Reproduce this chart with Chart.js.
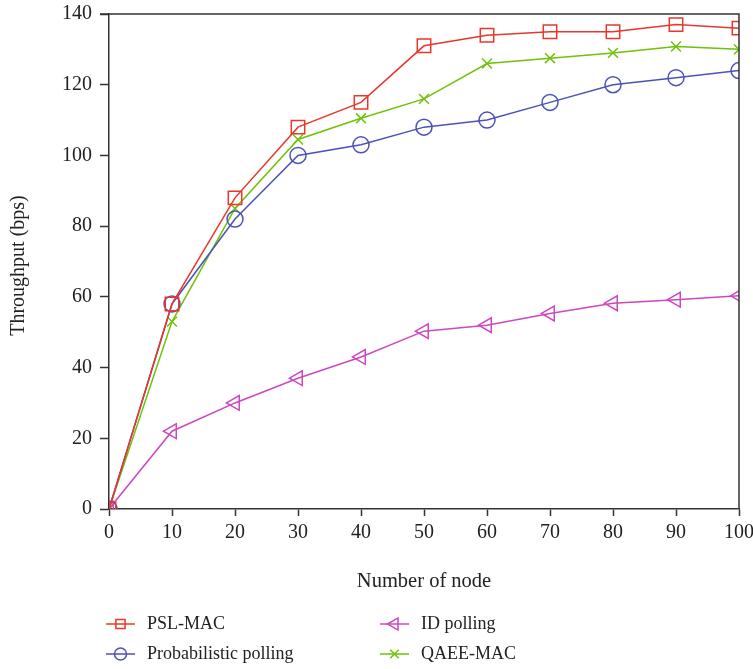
<!DOCTYPE html>
<html>
<head>
<meta charset="utf-8">
<script src="https://cdn.jsdelivr.net/npm/chart.js@4/dist/chart.umd.min.js"></script>
<style>
  html, body { margin: 0; padding: 0; background: #fff; }
  #wrap { width: 753px; height: 669px; }
</style>
</head>
<body>
<div id="wrap"><canvas id="chart" width="753" height="669"></canvas></div>
<script>
// data
const nodes = [0, 10, 20, 30, 40, 50, 60, 70, 80, 90, 100];
const pslMac = [0, 58, 88, 108, 115, 131, 134, 135, 135, 137, 136];
const probPolling = [0, 58, 82, 100, 103, 108, 110, 115, 120, 122, 124];
const idPolling = [0, 22, 30, 37, 43, 50.3, 52, 55.3, 58.2, 59.2, 60.3];
const qaeeMac = [0, 53, 85, 104.5, 110.5, 116, 126, 127.5, 129, 130.8, 130];
const seriesNames = ['PSL-MAC', 'Probabilistic polling', 'ID polling', 'QAEE-MAC'];
const yTicks = [0, 20, 40, 60, 80, 100, 120, 140];

const FONT = '"Liberation Serif", "DejaVu Serif", serif';
const AXIS = '#333';

function pts(vals){ return vals.map((v, i) => ({ x: nodes[i], y: v })); }

const styles = [
  { color: '#e8372c', pointStyle: 'rect', radius: 9.5, legendR: 6.5, rotation: 0 },
  { color: '#4b52b8', pointStyle: 'circle', radius: 8, legendR: 6, rotation: 0 },
  { color: '#cc48c0', pointStyle: 'triangle', radius: 8.5, legendR: 7, rotation: -90 },
  { color: '#6fc10a', pointStyle: 'crossRot', radius: 7, legendR: 6, rotation: 0 }
];
const allVals = [pslMac, probPolling, idPolling, qaeeMac];

const datasets = allVals.map((vals, i) => ({
  label: seriesNames[i],
  data: pts(vals),
  borderColor: styles[i].color,
  backgroundColor: 'rgba(0,0,0,0)',
  borderWidth: 1.5,
  pointStyle: styles[i].pointStyle,
  pointRadius: styles[i].radius,
  pointRotation: styles[i].rotation,
  pointBorderColor: styles[i].color,
  pointBackgroundColor: 'rgba(0,0,0,0)',
  pointBorderWidth: 1.5,
  tension: 0
}));

/* box, axis titles and two-column legend */
const decor = {
  id: 'decor',
  afterDraw(chart){
    const ctx = chart.ctx;
    const a = chart.chartArea;
    ctx.save();
    ctx.strokeStyle = AXIS;
    ctx.lineWidth = 1.5;
    ctx.beginPath();
    ctx.moveTo(a.left - 9, a.top);
    ctx.lineTo(a.right, a.top);
    ctx.lineTo(a.right, a.bottom);
    ctx.stroke();

    ctx.fillStyle = '#222';
    ctx.font = '20.5px ' + FONT;
    ctx.textAlign = 'center';
    ctx.textBaseline = 'middle';
    ctx.fillText('Number of node', (a.left + a.right) / 2, 582);

    ctx.save();
    ctx.translate(19, (a.top + a.bottom) / 2 + 4);
    ctx.rotate(-Math.PI / 2);
    ctx.font = '20px ' + FONT;
    ctx.fillText('Throughput (bps)', 0, 0);
    ctx.restore();

    const slots = [
      { x: 106, y: 624 }, { x: 106, y: 654 },
      { x: 380, y: 624 }, { x: 380, y: 654 }
    ];
    ctx.font = '18px ' + FONT;
    ctx.textAlign = 'left';
    slots.forEach((s, i) => {
      const st = styles[i];
      ctx.strokeStyle = st.color;
      ctx.lineWidth = 1.5;
      ctx.beginPath();
      ctx.moveTo(s.x, s.y);
      ctx.lineTo(s.x + 29, s.y);
      ctx.stroke();
      ctx.fillStyle = 'rgba(0,0,0,0)';
      if (Chart.helpers && Chart.helpers.drawPoint) {
        Chart.helpers.drawPoint(ctx, {
          pointStyle: st.pointStyle,
          radius: st.legendR,
          rotation: st.rotation,
          borderWidth: 1.5
        }, s.x + 14.5, s.y);
      }
      ctx.fillStyle = '#222';
      ctx.fillText(seriesNames[i], i < 2 ? 147 : 421, s.y);
    });
    ctx.restore();
  }
};

new Chart(document.getElementById('chart'), {
  type: 'line',
  data: { datasets },
  options: {
    responsive: false,
    animation: false,
    layout: { padding: { top: 14, right: 14, left: 0, bottom: 0 } },
    plugins: { legend: { display: false }, tooltip: { enabled: false } },
    scales: {
      x: {
        type: 'linear',
        min: 0, max: 100,
        afterFit: s => { s.height = 160; s.paddingRight = 0; s.paddingLeft = 0; },
        afterBuildTicks: s => { s.ticks = nodes.map(v => ({ value: v })); },
        grid: { drawOnChartArea: false, color: AXIS, tickLength: 7, tickWidth: 1.5 },
        border: { color: AXIS, width: 1.5 },
        ticks: { color: '#222', padding: 5, maxRotation: 0, font: { family: FONT, size: 20 } }
      },
      y: {
        min: 0, max: 140,
        afterFit: s => { s.width = 109; s.paddingTop = 0; s.paddingBottom = 0; },
        afterBuildTicks: s => { s.ticks = yTicks.map(v => ({ value: v })); },
        grid: { drawOnChartArea: false, color: AXIS, tickLength: 9, tickWidth: 1.5 },
        border: { color: AXIS, width: 1.5 },
        ticks: { color: '#222', padding: 8, font: { family: FONT, size: 20 } }
      }
    }
  },
  plugins: [decor]
});
</script>
</body>
</html>
